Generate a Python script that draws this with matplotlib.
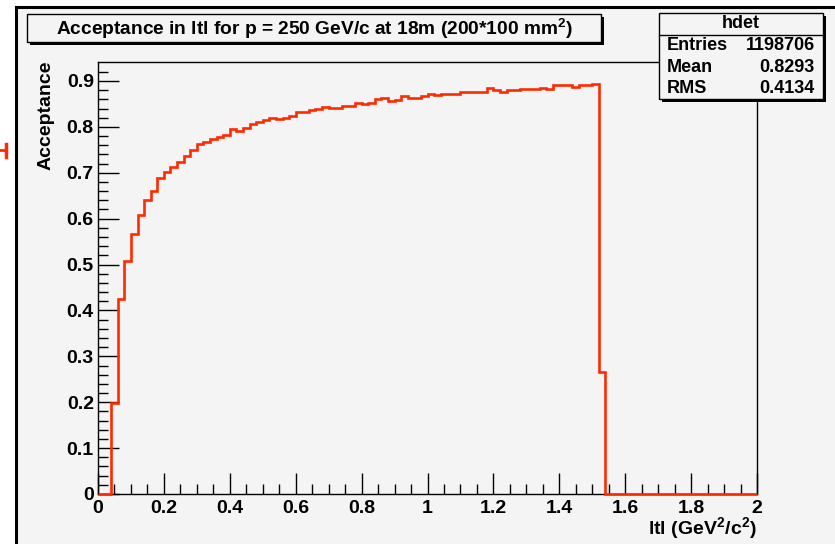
import numpy as np
import matplotlib
matplotlib.use("Agg")
import matplotlib.pyplot as plt
from matplotlib.patches import Rectangle
from matplotlib.lines import Line2D

plt.rcParams["font.family"] = ["Liberation Sans", "DejaVu Sans"]
plt.rcParams["mathtext.fontset"] = "custom"
plt.rcParams["mathtext.bf"] = "Liberation Sans:bold"
plt.rcParams["mathtext.rm"] = "Liberation Sans:bold"

# |t| binning: 100 bins over [0, 2] GeV^2/c^2
bin_edges = np.linspace(0.0, 2.0, 101)

# acceptance per bin (bins 0..99)
acceptance = [
    0.0, 0.0, 0.198, 0.424, 0.508, 0.566, 0.609, 0.640, 0.660, 0.688,
    0.702, 0.713, 0.724, 0.737, 0.750, 0.763, 0.766, 0.774, 0.777, 0.782,
    0.795, 0.791, 0.797, 0.806, 0.811, 0.816, 0.819, 0.817, 0.819, 0.824,
    0.832, 0.832, 0.836, 0.839, 0.843, 0.841, 0.841, 0.845, 0.846, 0.851,
    0.850, 0.851, 0.861, 0.864, 0.856, 0.859, 0.868, 0.864, 0.862, 0.868,
    0.872, 0.870, 0.871, 0.872, 0.871, 0.877, 0.877, 0.875, 0.877, 0.884,
    0.880, 0.876, 0.881, 0.880, 0.883, 0.883, 0.883, 0.885, 0.883, 0.891,
    0.891, 0.891, 0.888, 0.891, 0.891, 0.894, 0.266, 0.0, 0.0, 0.0,
    0.0, 0.0, 0.0, 0.0, 0.0, 0.0, 0.0, 0.0, 0.0, 0.0,
    0.0, 0.0, 0.0, 0.0, 0.0, 0.0, 0.0, 0.0, 0.0, 0.0,
]

x_ticks = [0, 0.2, 0.4, 0.6, 0.8, 1.0, 1.2, 1.4, 1.6, 1.8, 2.0]
x_tick_labels = ["0", "0.2", "0.4", "0.6", "0.8", "1", "1.2", "1.4", "1.6", "1.8", "2"]
y_ticks = [0, 0.1, 0.2, 0.3, 0.4, 0.5, 0.6, 0.7, 0.8, 0.9]
y_tick_labels = ["0", "0.1", "0.2", "0.3", "0.4", "0.5", "0.6", "0.7", "0.8", "0.9"]

stats_name = "hdet"
stats_rows = [("Entries", "1198706"), ("Mean", "0.8293"), ("RMS", "0.4134")]

title_text = r"Acceptance in ltl for p = 250 GeV/c at 18m (200*100 mm$^\mathbf{2}$)"
x_label = r"ltl (GeV$^\mathbf{2}$/c$^\mathbf{2}$)"
y_label = "Acceptance"

W, H = 835, 544
BG = "#f4f4f4"
RED = "#ff2a00"


def fx(px):
    return px / W


def fy(py):
    return 1.0 - py / H


fig = plt.figure(figsize=(W / 100, H / 100), dpi=100, facecolor="white")

# canvas background with its border
fig.patches.append(Rectangle((fx(16), 0), 1 - fx(16), fy(7), transform=fig.transFigure,
                             facecolor=BG, edgecolor="none", zorder=-5))
fig.add_artist(Line2D([fx(16), fx(16)], [0, fy(7)], color="black", lw=2.2,
                      transform=fig.transFigure, zorder=-4))
fig.add_artist(Line2D([fx(16), 1], [fy(7), fy(7)], color="black", lw=2.2,
                      transform=fig.transFigure, zorder=-4))
# small red fragment at the left margin
fig.add_artist(Line2D([fx(0), fx(6)], [fy(150), fy(150)], color=RED, lw=2,
                      transform=fig.transFigure))
fig.add_artist(Line2D([fx(6), fx(6)], [fy(144), fy(157)], color=RED, lw=2.5,
                      transform=fig.transFigure))

ax = fig.add_axes([fx(98), fy(494), fx(757) - fx(98), fy(62) - fy(494)])
ax.set_zorder(1)
ax.set_facecolor(BG)
ax.set_xlim(0, 2)
ax.set_ylim(0, 0.9414)

ax.stairs(acceptance, bin_edges, baseline=0, color=RED, lw=1.9, clip_on=False, zorder=3)

for sp in ax.spines.values():
    sp.set_color("black")
    sp.set_linewidth(1.0)

ax.set_xticks(x_ticks)
ax.set_xticklabels(x_tick_labels, fontsize=14, fontweight="bold")
ax.set_yticks(y_ticks)
ax.set_yticklabels(y_tick_labels, fontsize=14, fontweight="bold")
ax.set_xticks(np.arange(0, 2.0001, 0.05), minor=True)
ax.set_yticks(np.arange(0, 0.94, 0.02), minor=True)
ax.tick_params(which="major", direction="in", length=15, width=1.0, color="black")
ax.tick_params(which="minor", direction="in", length=7.5, width=1.0, color="black")
ax.tick_params(axis="x", which="major", pad=4)
ax.tick_params(axis="y", which="major", pad=3)

fig.text(fx(757), fy(529), x_label, ha="right", va="center", fontsize=14, fontweight="bold",
         zorder=6)
fig.text(fx(46), fy(60), y_label, ha="center", va="top", rotation=90, fontsize=14,
         fontweight="bold", zorder=6)

# title pave with shadow
tx0, ty0, tx1, ty1 = 27, 14, 601, 42
fig.patches.append(Rectangle((fx(tx0 + 3), fy(ty1 + 3)), fx(tx1 - tx0), fy(ty0) - fy(ty1),
                             transform=fig.transFigure, facecolor="black", edgecolor="none",
                             zorder=4))
fig.patches.append(Rectangle((fx(tx0), fy(ty1)), fx(tx1 - tx0), fy(ty0) - fy(ty1),
                             transform=fig.transFigure, facecolor=BG, edgecolor="black",
                             lw=1.0, zorder=5))
fig.text(fx((tx0 + tx1) / 2), fy(29), title_text, ha="center", va="center", fontsize=13.8,
         fontweight="bold", zorder=6)

# statistics pave with shadow
sx0, sy0, sx1, sy1 = 659, 13, 823, 99
fig.patches.append(Rectangle((fx(sx0 + 3), fy(sy1 + 3)), fx(sx1 - sx0), fy(sy0) - fy(sy1),
                             transform=fig.transFigure, facecolor="black", edgecolor="none",
                             zorder=4))
fig.patches.append(Rectangle((fx(sx0), fy(sy1)), fx(sx1 - sx0), fy(sy0) - fy(sy1),
                             transform=fig.transFigure, facecolor=BG, edgecolor="black",
                             lw=1.0, zorder=5))
fig.add_artist(Line2D([fx(sx0), fx(sx1)], [fy(35), fy(35)], color="black", lw=1.0,
                      transform=fig.transFigure, zorder=6))
fig.text(fx((sx0 + sx1) / 2), fy(23), stats_name, ha="center", va="center", fontsize=13,
         fontweight="bold", zorder=6)
for i, (name, val) in enumerate(stats_rows):
    yy = 45.5 + i * 21.5
    fig.text(fx(667), fy(yy), name, ha="left", va="center", fontsize=13,
             fontweight="bold", zorder=6)
    fig.text(fx(815), fy(yy), val, ha="right", va="center", fontsize=13,
             fontweight="bold", zorder=6)

fig.savefig("out.png", dpi=100, facecolor="white")
